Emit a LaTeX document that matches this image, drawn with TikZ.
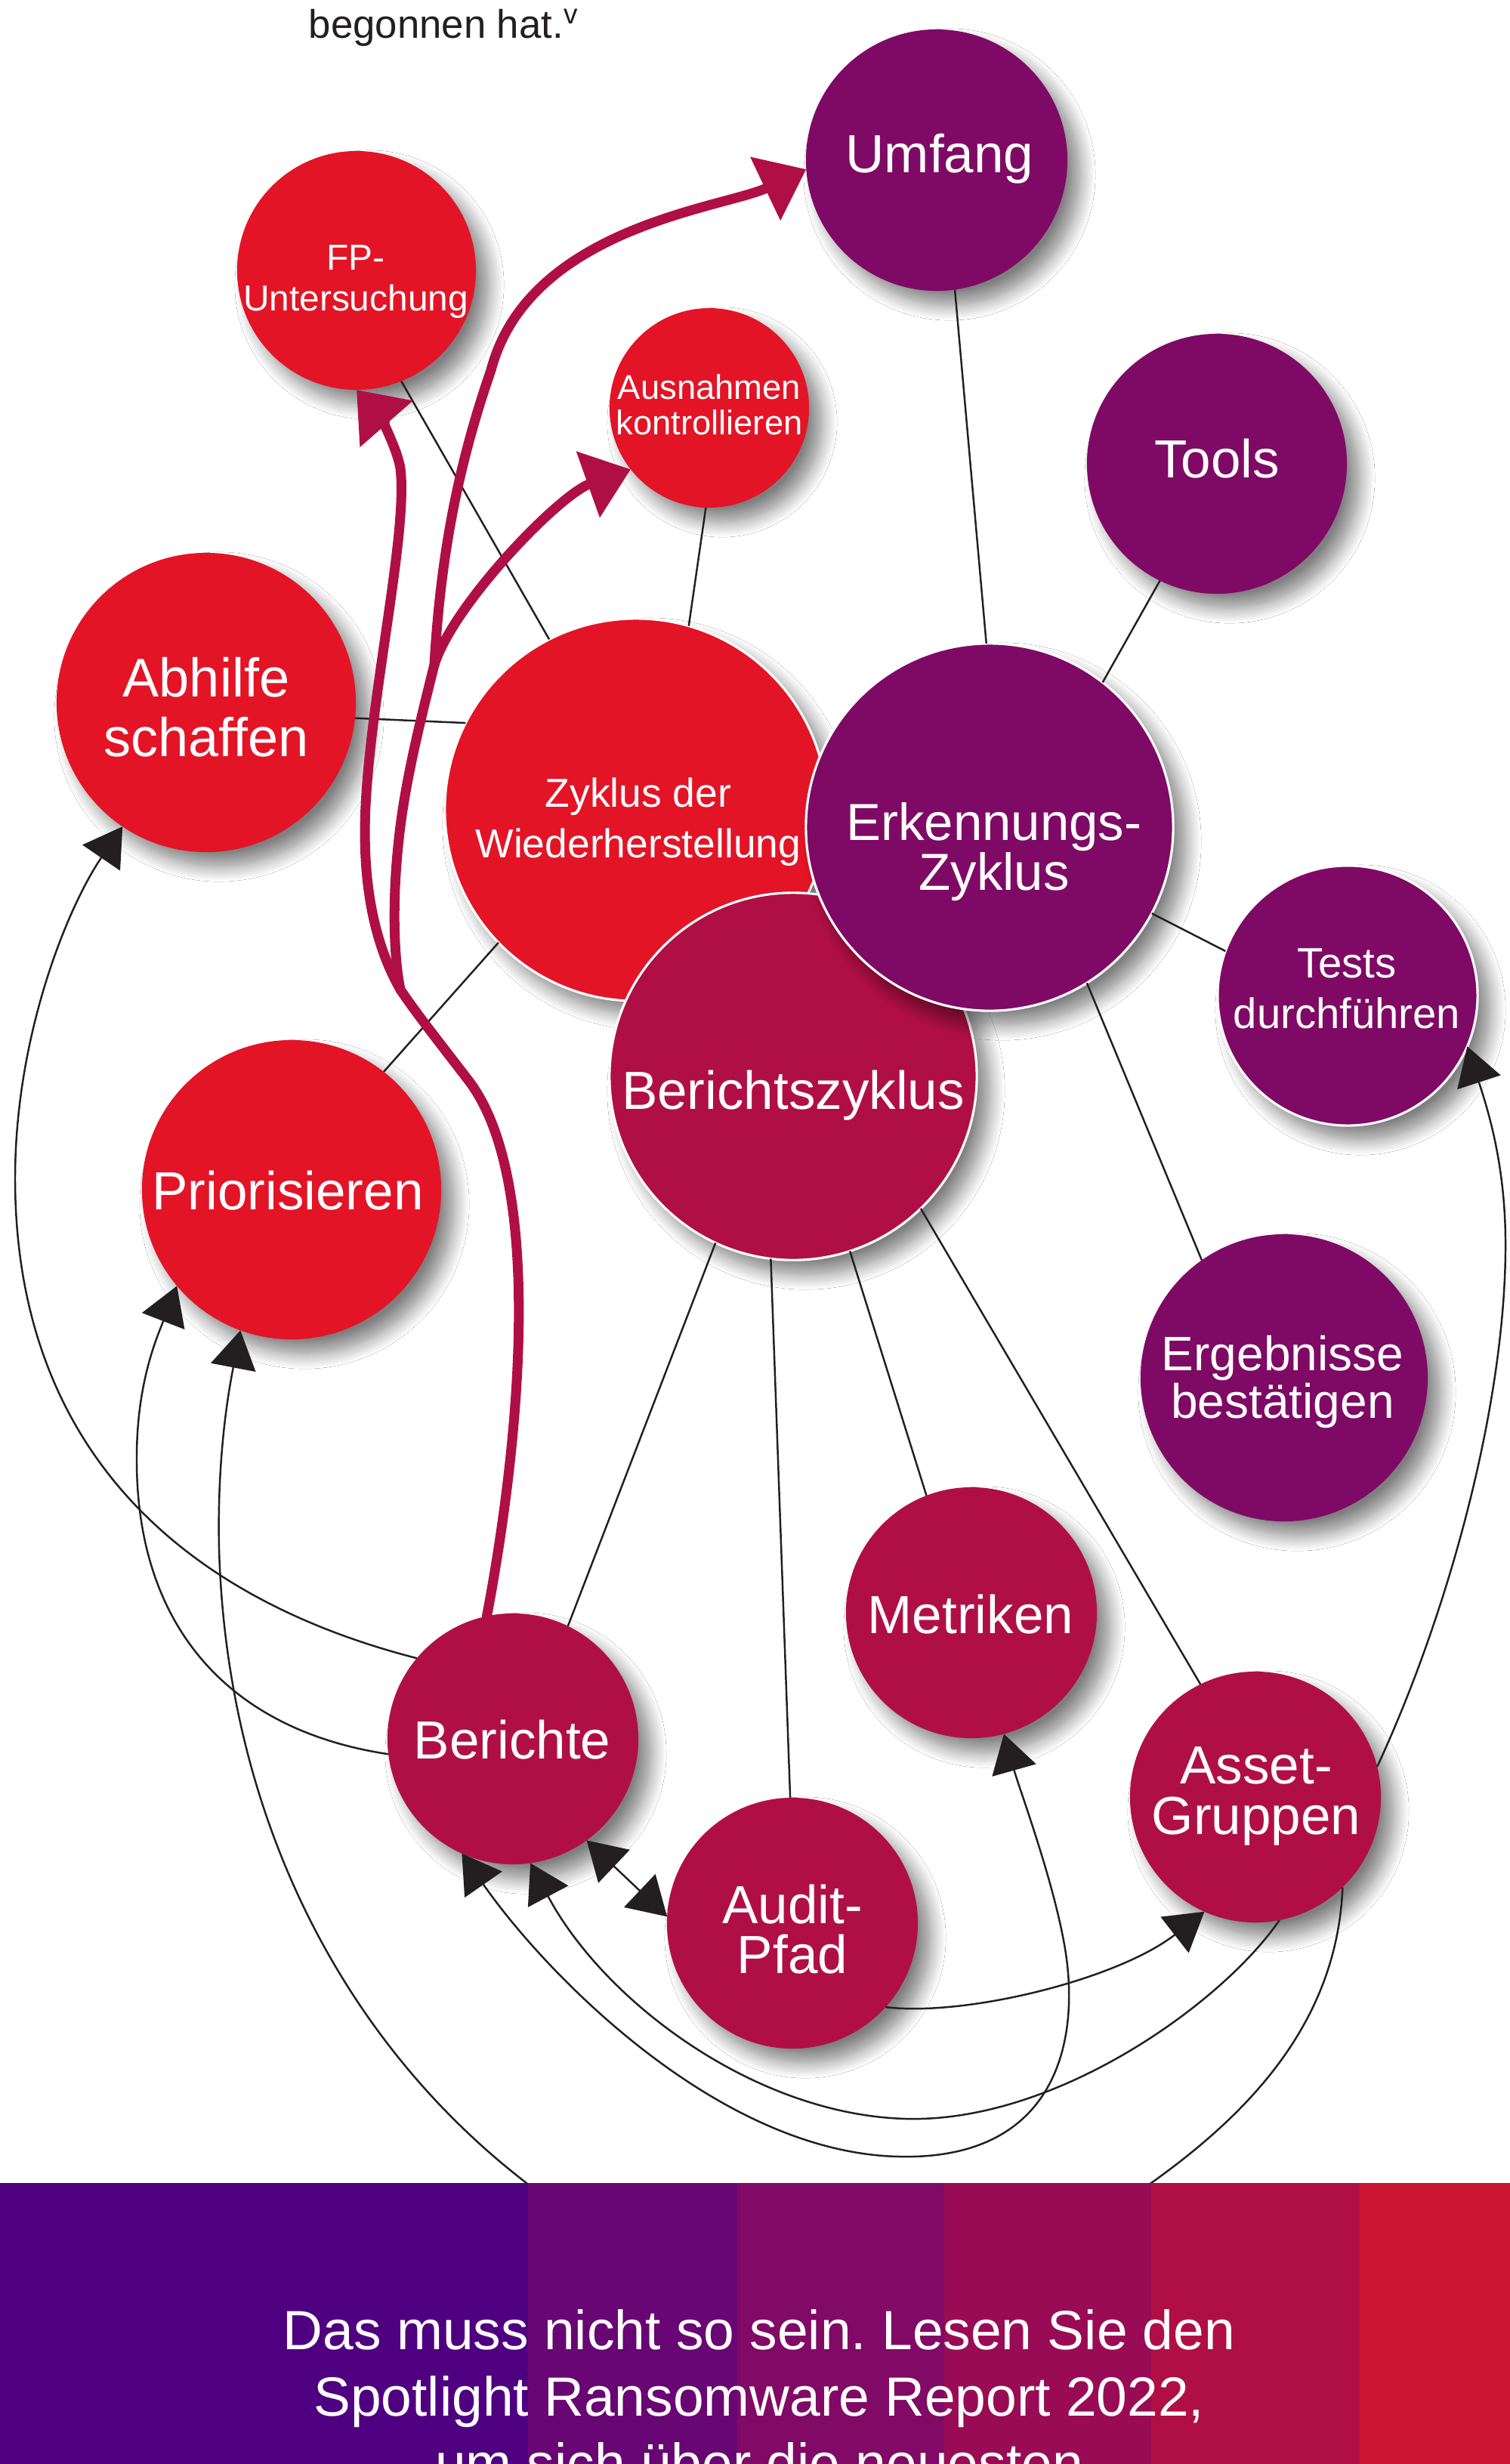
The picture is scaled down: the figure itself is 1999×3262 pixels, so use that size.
\documentclass[tikz,border=0pt]{standalone}
\usepackage{fontspec}
\setmainfont{Liberation Sans}
\frenchspacing
\usetikzlibrary{arrows.meta,shadows.blur}
\definecolor{cred}{HTML}{E31426}
\definecolor{ccrim}{HTML}{B00F45}
\definecolor{cpurp}{HTML}{7F0A65}
\definecolor{cink}{HTML}{231F20}
\definecolor{bandA}{HTML}{4F0080}
\definecolor{bandB}{HTML}{680673}
\definecolor{bandC}{HTML}{800A65}
\definecolor{bandD}{HTML}{990C55}
\definecolor{bandE}{HTML}{B00F45}
\definecolor{bandF}{HTML}{CC1433}
\tikzset{
  bub/.style={circle, inner sep=0pt, outer sep=0pt,
    blur shadow={shadow xshift=0.17cm, shadow yshift=-0.19cm, shadow blur radius=0.2cm, shadow blur steps=14, shadow opacity=50}},
  rim/.style={draw=white, line width=0.9pt},
  lbl/.style={text=white, align=center, inner sep=0pt},
  conn/.style={draw=cink, line width=0.7pt},
  blk/.style={conn, -{Triangle[length=0.5cm,width=0.6cm]}},
  blkb/.style={conn, {Triangle[length=0.5cm,width=0.6cm]}-{Triangle[length=0.5cm,width=0.6cm]}},
  thk/.style={draw=ccrim, line width=3.7pt, line cap=round},
  thka/.style={thk, -{Triangle[length=0.6cm,width=0.9cm]}},
  szM/.style={font=\fontsize{20.2}{19}\selectfont},
  szAb/.style={font=\fontsize{20.5}{22.5}\selectfont},
  szZy/.style={font=\fontsize{15.2}{19}\selectfont},
  szFP/.style={font=\fontsize{13.6}{15.4}\selectfont},
  szAu/.style={font=\fontsize{12.9}{13.4}\selectfont},
  szTe/.style={font=\fontsize{16}{19}\selectfont},
  szEr/.style={font=\fontsize{18.2}{17.9}\selectfont},
  szEk/.style={font=\fontsize{19.6}{18.8}\selectfont},
}
\begin{document}
\begin{tikzpicture}[x=0.01cm, y=-0.01cm]
\useasboundingbox (0,0) rectangle (1999,3262);
\fill[white] (0,0) rectangle (1999,3262);

% top text
\node[anchor=base west, text=cink, inner sep=0pt, font=\fontsize{15}{18}\selectfont] (toptxt) at (408,50) {begonnen hat.\textsuperscript{v}};

% circles
\node[bub, fill=cpurp, minimum size=3.46cm] (umf) at (1240,212) {};
\node[bub, fill=cred, minimum size=3.16cm] (fp) at (472,358) {};
\node[bub, fill=cred, minimum size=2.64cm] (aus) at (939,540) {};
\node[bub, fill=cpurp, minimum size=3.44cm] (tools) at (1611,614) {};
\node[bub, fill=cred, minimum size=3.96cm] (abh) at (273,930) {};
\node[bub, rim, fill=cred, minimum size=5.06cm] (zyk) at (842,1072) {};
\node[bub, rim, fill=ccrim, minimum size=4.86cm] (ber) at (1050,1425) {};
\node[bub, rim, fill=cpurp, minimum size=4.86cm] (erk) at (1310,1095) {};
\node[bub, rim, fill=cpurp, minimum size=3.44cm] (tests) at (1784,1318) {};
\node[bub, fill=cred, minimum size=3.96cm] (prio) at (386,1575) {};
\node[bub, fill=cpurp, minimum size=3.80cm] (erg) at (1700,1824) {};
\node[bub, fill=ccrim, minimum size=3.32cm] (met) at (1286,2135) {};
\node[bub, fill=ccrim, minimum size=3.32cm] (berichte) at (679,2302) {};
\node[bub, fill=ccrim, minimum size=3.32cm] (asset) at (1662,2379) {};
\node[bub, fill=ccrim, minimum size=3.32cm] (audit) at (1049,2546) {};

% labels
\node[lbl, szM] (umf-t) at (1244,210) {Umfang};
\node[lbl, szFP] (fp-t) at (471,373) {FP-\\Untersuchung};
\node[lbl, szAu] (aus-t) at (939,536) {Ausnahmen\\kontrollieren};
\node[lbl, szM] (tools-t) at (1611,607) {Tools};
\node[lbl, szAb] (abh-t) at (273,936) {Abhilfe\\schaffen};
\node[lbl, szZy] (zyk-t) at (845,1088) {Zyklus der\\Wiederherstellung};
\node[lbl, szEk] (erk-t) at (1316,1128) {Erkennungs-\\Zyklus};
\node[lbl, szM] (ber-t) at (1050,1450) {Berichtszyklus};
\node[lbl, szTe] (tests-t) at (1783,1309) {Tests\\durchführen};
\node[lbl, szM] (prio-t) at (381,1576) {Priorisieren};
\node[lbl, szEr] (erg-t) at (1698,1829) {Ergebnisse\\bestätigen};
\node[lbl, szM] (met-t) at (1285,2137) {Metriken};
\node[lbl, szM] (berichte-t) at (678,2303) {Berichte};
\node[lbl, szM] (asset-t) at (1663,2378) {Asset-\\Gruppen};
\node[lbl, szM] (audit-t) at (1049,2554) {Audit-\\Pfad};

% straight connectors
\draw[conn] (umf.278) -- (erk.91);
\draw[conn] (tools.244) -- (erk.52);
\draw[conn] (erk.332) -- (tests.160);
\draw[conn] (erk.302) -- (erg.125);
\draw[conn] (fp.292) -- (zyk.117);
\draw[conn] (aus.268) -- (zyk.74);
\draw[conn] (abh.354) -- (zyk.153);
\draw[conn] (prio.52) -- (zyk.224);
\draw[conn] (ber.245) -- (berichte.64);
\draw[conn] (ber.263) -- (audit.91);
\draw[conn] (ber.288) -- (met.111);
\draw[conn] (ber.314) -- (asset.116);

% curved black arrows
\draw[blk] (berichte.140) .. controls (220,2110) and (20,1900) .. (20,1560) .. controls (20,1370) and (90,1200) .. (abh.236);
\draw[blk] (berichte.187) .. controls (300,2290) and (180,2150) .. (181,1930) .. controls (181,1830) and (208,1770) .. (prio.220);
\draw[blk] (asset.314) .. controls (1770,2680) and (1650,2800) .. (1524,2890) .. controls (1300,3050) and (900,3050) .. (697,2890) .. controls (450,2700) and (300,2400) .. (290,2050) .. controls (287,1920) and (305,1830) .. (prio.250);
\draw[blk] (asset.14) .. controls (1920,2130) and (1995,1850) .. (1993,1640) .. controls (1992,1540) and (1970,1470) .. (tests.337);
\draw[blkb] (berichte.246) .. controls (720,2610) and (950,2850) .. (1190,2855) .. controls (1400,2860) and (1430,2700) .. (1410,2580) .. controls (1395,2490) and (1350,2370) .. (met.285);
\draw[blk] (asset.281) .. controls (1620,2650) and (1400,2810) .. (1200,2805) .. controls (1000,2800) and (800,2650) .. (berichte.278);
\draw[blkb] (berichte.306) -- (audit.177);
\draw[blk] (audit.318) .. controls (1280,2670) and (1480,2620) .. (asset.246);

% thick crimson branching curve
\coordinate (s1) at (530,1310);
\coordinate (s2) at (575,880);
\draw[thk] (berichte.102) .. controls (690,1900) and (720,1560) .. (620,1430) .. controls (580,1378) and (550,1340) .. (s1);
\draw[thka] (s1) .. controls (490,1240) and (478,1150) .. (485,1050) .. controls (495,900) and (540,700) .. (530,620) .. controls (525,590) and (500,548) .. (fp.270);
\draw[thk] (s1) .. controls (518,1250) and (520,1150) .. (535,1060) .. controls (545,1000) and (560,940) .. (s2);
\draw[thka] (s2) .. controls (583,740) and (605,620) .. (650,490) .. controls (700,300) and (960,275) .. (umf.184);
\draw[thka] (s2) .. controls (600,800) and (740,655) .. (aus.218);

% bottom band
\fill[bandA] (0,2890) rectangle (700,3262);
\fill[bandB] (699,2890) rectangle (977,3262);
\fill[bandC] (976,2890) rectangle (1251,3262);
\fill[bandD] (1250,2890) rectangle (1525,3262);
\fill[bandE] (1524,2890) rectangle (1801,3262);
\fill[bandF] (1800,2890) rectangle (1999,3262);
\node[anchor=base, text=white, inner sep=0pt, font=\fontsize{20.8}{25}\selectfont] (band1) at (1005,3110) {Das muss nicht so sein. Lesen Sie den};
\node[anchor=base, text=white, inner sep=0pt, font=\fontsize{20.8}{25}\selectfont] (band2) at (1005,3198) {Spotlight Ransomware Report 2022,};
\node[anchor=base, text=white, inner sep=0pt, font=\fontsize{20.8}{25}\selectfont] (band3) at (1005,3286) {um sich über die neuesten};
\end{tikzpicture}
\end{document}
